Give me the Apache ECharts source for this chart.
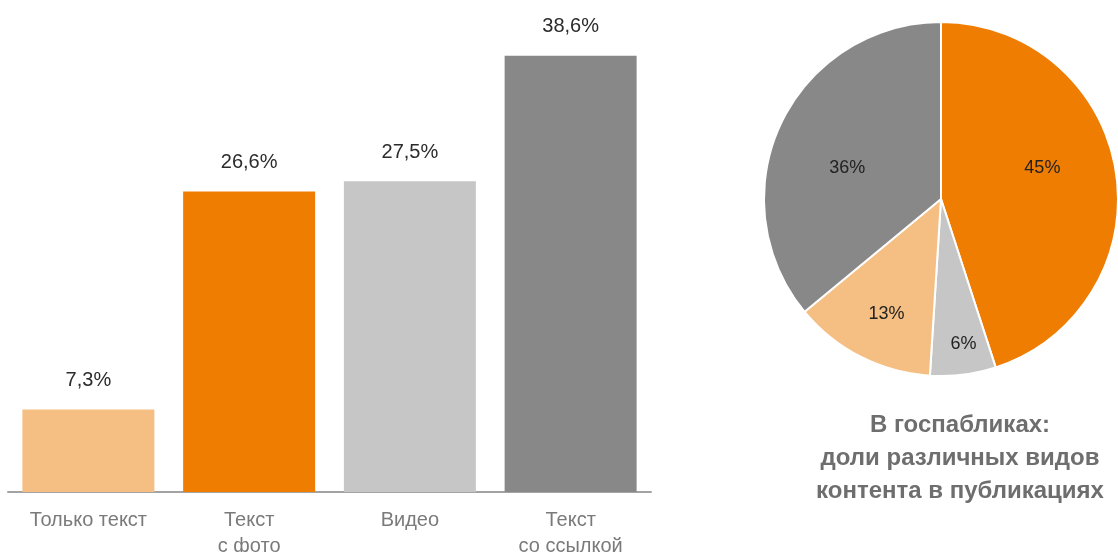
<!DOCTYPE html>
<html>
<head>
<meta charset="utf-8">
<script src="https://cdn.jsdelivr.net/npm/echarts@6/dist/echarts.min.js"></script>
<style>
html, body { margin: 0; padding: 0; background: #ffffff; }
#chart { width: 1118px; height: 552px; }
</style>
</head>
<body>
<div id="chart"></div>
<script>
// Bar chart: share of publications by content type
const barCategories = ['Только текст', 'Текст\nс фото', 'Видео', 'Текст\nсо ссылкой'];
const barValues = [7.3, 26.6, 27.5, 38.6];
const barColors = ['#f5bf83', '#ef7d02', '#c6c6c6', '#888888'];

// Pie chart: content shares in government public pages
const pieNames = ['Текст с фото', 'Видео', 'Только текст', 'Текст со ссылкой'];
const pieValues = [45, 6, 13, 36];
const pieColors = ['#ef7d02', '#c6c6c6', '#f5bf83', '#888888'];
// nudges [dx, dy] for each inside slice label
const pieLabelShift = [[11, -17], [11, 54], [-13, 34], [-11, 8]];

const pieTitle = 'В госпабликах:\nдоли различных видов\nконтента в публикациях';

const FONT = '"Liberation Sans", Arial, Helvetica, sans-serif';

const chart = echarts.init(document.getElementById('chart'), null, { renderer: 'canvas' });

chart.setOption({
  backgroundColor: '#ffffff',
  animation: false,
  textStyle: { fontFamily: FONT },
  title: {
    text: pieTitle,
    left: 960,
    top: 409,
    padding: 0,
    textAlign: 'center',
    textStyle: {
      fontFamily: FONT,
      fontSize: 24,
      fontWeight: 'bold',
      color: '#6e6e6e',
      lineHeight: 33,
      align: 'center'
    }
  },
  grid: {
    left: 8, top: 40, width: 643, height: 452,
    containLabel: false,
    outerBoundsMode: 'none'
  },
  xAxis: {
    type: 'category',
    data: barCategories,
    axisLine: { show: true, lineStyle: { color: '#a3a3a3', width: 2 } },
    axisTick: { show: false },
    axisLabel: {
      color: '#7a7a7a',
      fontSize: 20,
      fontFamily: FONT,
      lineHeight: 26,
      margin: 15,
      interval: 0
    }
  },
  yAxis: {
    type: 'value',
    min: 0,
    max: 40,
    show: false,
    splitLine: { show: false }
  },
  series: [
    {
      type: 'bar',
      barWidth: 132,
      data: barValues.map((v, i) => ({ value: v, itemStyle: { color: barColors[i] } })),
      label: {
        show: true,
        position: 'top',
        distance: 19,
        color: '#2b2b2b',
        fontSize: 20,
        fontFamily: FONT,
        formatter: p => String(p.value).replace('.', ',') + '%'
      }
    },
    {
      type: 'pie',
      center: [941, 199],
      radius: [0, 177],
      startAngle: 90,
      clockwise: true,
      data: pieValues.map((v, i) => ({
        name: pieNames[i],
        value: v,
        itemStyle: { color: pieColors[i] }
      })),
      itemStyle: { borderColor: '#ffffff', borderWidth: 2 },
      label: {
        show: true,
        position: 'inside',
        color: '#222222',
        fontSize: 18,
        fontFamily: FONT,
        formatter: p => p.value + '%'
      },
      labelLayout: p => ({ dx: pieLabelShift[p.dataIndex][0], dy: pieLabelShift[p.dataIndex][1] }),
      labelLine: { show: false },
      emphasis: { disabled: true }
    }
  ]
});
</script>
</body>
</html>
